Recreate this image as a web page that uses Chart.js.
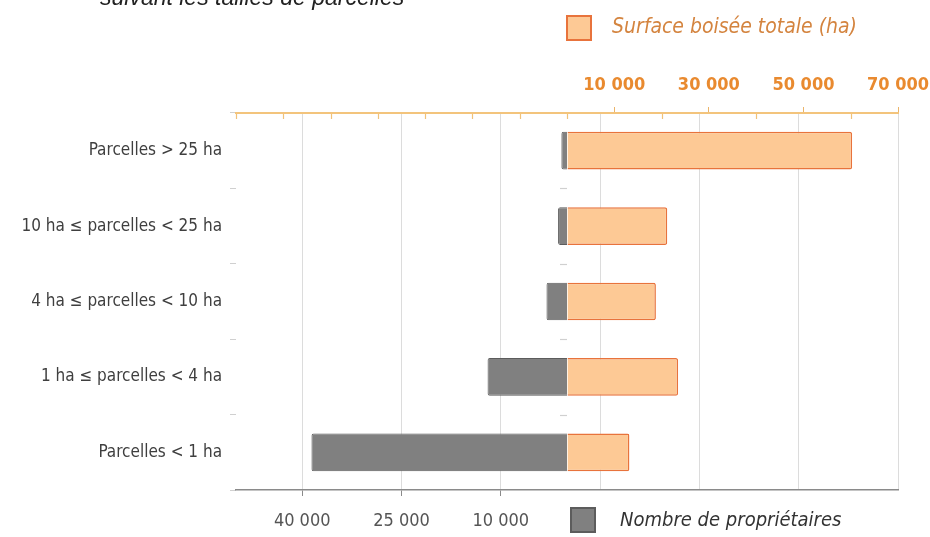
<!DOCTYPE html>
<html>
<head>
<meta charset="utf-8">
<script src="https://cdn.jsdelivr.net/npm/chart.js@4.4.1/dist/chart.umd.min.js"></script>
<style>
  html, body { margin: 0; padding: 0; background: #fff; overflow: hidden; }
</style>
</head>
<body>
<canvas id="parcellesChart" width="930" height="537"></canvas>
<script>
const categories = [
  'Parcelles > 25 ha',
  '10 ha ≤ parcelles < 25 ha',
  '4 ha ≤ parcelles < 10 ha',
  '1 ha ≤ parcelles < 4 ha',
  'Parcelles < 1 ha'
];
const surfaceValues = [60300, 21200, 18800, 23500, 13200];
const ownerValues = [850, 1350, 3100, 12000, 38600];

const topTicks = [-70000, -60000, -50000, -40000, -30000, -20000, -10000, 0,
  10000, 20000, 30000, 40000, 50000, 60000, 70000];
const topTickLabels = [10000, 30000, 50000, 70000];
const bottomTicks = [-50000, -35000, -20000, -5000, 10000, 25000, 40000];
const bottomTickLabels = [10000, 25000, 40000];

const narrow = "'Liberation Sans Narrow', 'DejaVu Sans Condensed', 'Arial Narrow', sans-serif";
const orange = '#e98a2f';

const fmt = v => String(v).replace(/\B(?=(\d{3})+(?!\d))/g, ' ');

// no extra side padding from the first/last tick labels
const noSidePad = s => { s.paddingLeft = 0; s.paddingRight = 0; };

// legends, title and small extra ticks
const decor = {
  id: 'decor',
  afterDraw(chart) {
    const c = chart.ctx;
    const area = chart.chartArea;
    const x2 = chart.scales.x2;
    const y = chart.scales.y;
    c.save();

    c.fillStyle = '#222';
    c.font = "italic 23px 'Liberation Sans', Arial, sans-serif";
    c.textBaseline = 'alphabetic';
    c.fillText('suivant les tailles de parcelles', 100, 5);

    // small ticks under the top axis
    c.strokeStyle = '#f0c27a';
    c.lineWidth = 1.2;
    x2.ticks.forEach(t => {
      if (topTickLabels.includes(t.value)) return;
      const px = Math.round(x2.getPixelForValue(t.value)) + 0.5;
      c.beginPath();
      c.moveTo(px, area.top + 1);
      c.lineTo(px, area.top + 6);
      c.stroke();
    });

    // ticks left of zero line between categories
    const zx = x2.getPixelForValue(0);
    c.strokeStyle = '#d0d0d0';
    for (let i = 0; i < categories.length - 1; i++) {
      const py = Math.round((y.getPixelForTick(i) + y.getPixelForTick(i + 1)) / 2) + 0.5;
      c.beginPath();
      c.moveTo(zx - 7, py);
      c.lineTo(zx, py);
      c.stroke();
    }

    const sets = chart.data.datasets;
    c.textBaseline = 'middle';

    c.fillStyle = sets[0].backgroundColor;
    c.strokeStyle = sets[0].borderColor;
    c.lineWidth = 2;
    c.fillRect(567, 16, 24, 24);
    c.strokeRect(567, 16, 24, 24);
    c.fillStyle = '#d4843f';
    c.font = 'italic 21px ' + narrow;
    c.fillText(sets[0].label, 612, 28);

    c.fillStyle = sets[1].backgroundColor;
    c.strokeStyle = sets[1].borderColor;
    c.fillRect(571, 508, 24, 24);
    c.strokeRect(571, 508, 24, 24);
    c.fillStyle = '#333';
    c.font = 'italic 20px ' + narrow;
    c.fillText(sets[1].label, 620, 521);

    c.restore();
  }
};

const ctx = document.getElementById('parcellesChart').getContext('2d');

new Chart(ctx, {
  type: 'bar',
  data: {
    labels: categories,
    datasets: [{
      label: 'Surface boisée totale (ha)',
      data: surfaceValues,
      xAxisID: 'x2',
      backgroundColor: '#fdc995',
      borderColor: '#e8733c',
      borderWidth: 1.5,
      borderRadius: 2,
      borderSkipped: 'start',
      grouped: false,
      barPercentage: 0.5,
      categoryPercentage: 1
    }, {
      label: 'Nombre de propriétaires',
      data: ownerValues,
      xAxisID: 'x',
      backgroundColor: '#808080',
      borderColor: '#5c5c5c',
      borderWidth: 1,
      borderRadius: 2,
      borderSkipped: 'start',
      grouped: false,
      barPercentage: 0.5,
      categoryPercentage: 1
    }]
  },
  options: {
    indexAxis: 'y',
    responsive: false,
    animation: false,
    layout: { padding: { left: 0, right: 32, top: 0, bottom: 0 } },
    plugins: { legend: { display: false }, tooltip: { enabled: false } },
    scales: {
      y: {
        type: 'category',
        offset: true,
        grid: { offset: true, drawOnChartArea: false, tickLength: 6, color: '#d0d0d0' },
        border: { display: false },
        ticks: { color: '#3f3f3f', padding: 8, font: { family: narrow, size: 17 } },
        afterFit: s => { s.width = 236; }
      },
      x: {
        type: 'linear',
        position: 'bottom',
        reverse: true,
        min: -50000,
        max: 50000,
        afterBuildTicks: s => { s.ticks = bottomTicks.map(v => ({ value: v })); },
        ticks: {
          autoSkip: false,
          maxRotation: 0,
          padding: 15,
          color: '#555',
          font: { family: narrow, size: 18 },
          callback: v => bottomTickLabels.includes(v) ? fmt(v) : ''
        },
        grid: {
          color: '#dcdcdc',
          tickLength: 6,
          tickColor: c => bottomTickLabels.includes(c.tick && c.tick.value) ? '#8a8a8a' : 'rgba(0,0,0,0)'
        },
        border: { color: '#8a8a8a', width: 1.5 },
        afterFit: s => { s.height = 47; noSidePad(s); }
      },
      x2: {
        type: 'linear',
        axis: 'x',
        position: 'top',
        min: -70000,
        max: 70000,
        afterBuildTicks: s => { s.ticks = topTicks.map(v => ({ value: v })); },
        ticks: {
          autoSkip: false,
          maxRotation: 0,
          padding: 11,
          color: orange,
          font: { family: narrow, size: 18, weight: 'bold' },
          callback: v => topTickLabels.includes(v) ? fmt(v) : ''
        },
        grid: {
          drawOnChartArea: false,
          tickLength: 6,
          tickColor: c => topTickLabels.includes(c.tick && c.tick.value) ? '#eab46a' : 'rgba(0,0,0,0)'
        },
        border: { color: '#f3c47c', width: 2 },
        afterFit: s => { s.height = 113; noSidePad(s); }
      }
    }
  },
  plugins: [decor]
});
</script>
</body>
</html>
